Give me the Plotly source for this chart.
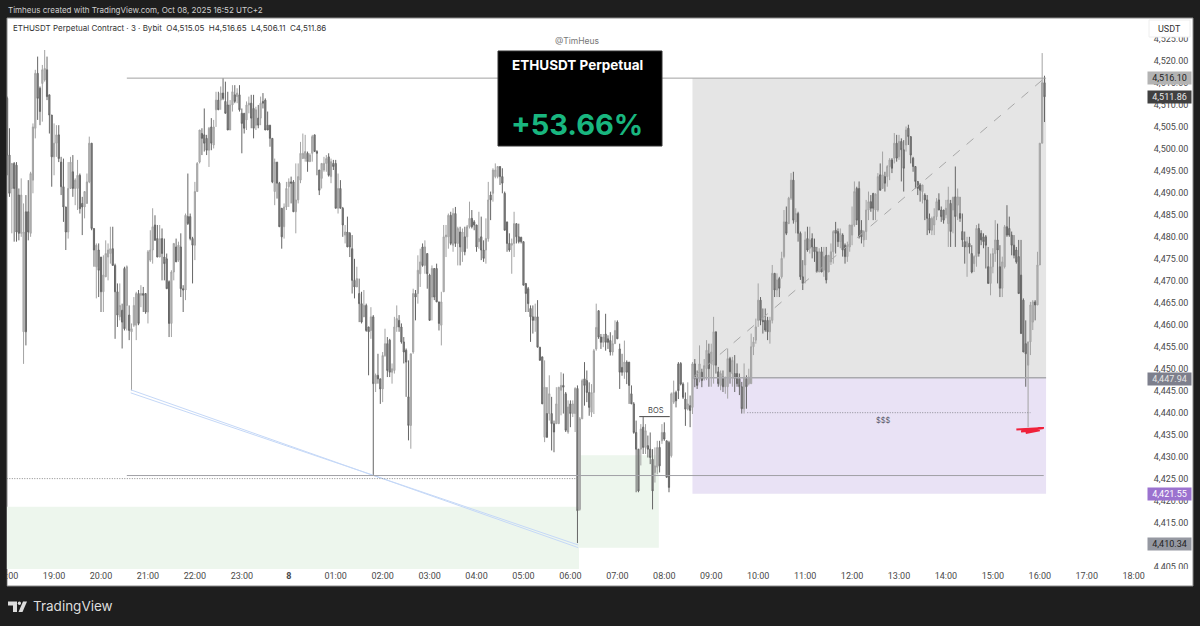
import pandas as pd
import plotly.graph_objects as go

# ETHUSDT 3m candles, one row per hour (20 candles)
opens = [
    4511.5,4498.6,4491,4496.7,4496.3,4489.5,4480.8,4458.4,4485.7,4485.7,4480.8,4492.9,4504.7,4517.2,4513.8,4514.9,4515.7,4518,4512.3,4507.7,
    4498.2,4501.3,4503.2,4497,4491.4,4486.8,4481.1,4491,4494.8,4491,4491,4494,4487.6,4486.8,4487.6,4492.5,4501.3,4481.9,4473.2,4477,
    4475.4,4467.5,4470.9,4475.4,4476.2,4477.3,4473.5,4467.5,4461.8,4463.3,4472.8,4464.4,4462.2,4458.4,4459.9,4459.9,4467.1,4466.7,4467.1,4467.1,
    4462.9,4474.7,4477,4482.7,4479.6,4475.4,4479.6,4475.4,4475,4469.8,4460.3,4472,4477.7,4474.7,4477.7,4468.2,4467.9,4484.6,4484.6,4479.6,
    4478.1,4490.3,4497,4503.5,4503.2,4502.4,4499.7,4505,4500.9,4508.9,4511.1,4511.1,4512.7,4510.8,4510,4504.3,4510,4512.3,4511.9,4512.3,
    4508.1,4508.1,4506.6,4510,4510.4,4509.2,4505.4,4507,4507,4510.8,4511.1,4505.4,4505.4,4502.4,4490.3,4497,4492.2,4486.5,4482.3,4486.8,
    4491.4,4492.5,4492.5,4485.7,4488.4,4492.9,4497.8,4497.8,4499,4497.1,4499,4503.2,4499.4,4495.2,4493.3,4495.2,4496.7,4498.2,4493.7,4496.7,
    4496.7,4486.5,4491,4486.5,4480.4,4481.1,4480.8,4477.3,4470.1,4468.6,4467.1,4464.8,4461.8,4464.4,4459.5,4458.7,4461.8,4446.6,4448.5,4447.7,
    4445.4,4453,4455.7,4456.5,4449.2,4449.6,4459.5,4461,4459.5,4456.1,4454.2,4443.6,4437.1,4453.8,4467.1,4467.1,4471.6,4477.7,4473.5,4476.2,
    4471.3,4466.3,4472.8,4472.8,4465.2,4459.9,4467.5,4480,4480,4484.9,4478.1,4485.3,4478.5,4481.1,4476.6,4480,4480,4482.3,4484.2,4483.4,
    4482.7,4478.9,4480,4477,4477,4479.6,4489.5,4489.9,4493.7,4493.7,4496,4493.7,4489.9,4483.4,4478.5,4478.1,4478.5,4483,4480,4479.9,
    4478.9,4469.4,4468.2,4463.7,4461.8,4461,4461.8,4454.9,4452.7,4434.4,4439.8,4439.8,4439.8,4437.5,4437.5,4437.5,4445.1,4446.2,4444.3,4435.6,
    4442,4439.8,4439.8,4445.5,4418,4438.6,4447.7,4447.3,4444.6,4440.1,4444.6,4454.5,4463.2,4457.2,4456,4457.9,4456.8,4456.4,4453.8,4455.7,
    4460.6,4454.5,4450.3,4449.2,4451.5,4451.5,4444.3,4442,4435.5,4431.7,4431.7,4436.7,4432.1,4432.5,4431.7,4429.4,4426.4,4427.6,4432.1,4433.6,
    4435.5,4433.6,4433.2,4430.2,4442.4,4444.6,4451.1,4451.2,4446.5,4443.1,4440.8,4441.6,4441.2,4451.1,4447.9,4447.7,4449.2,4447.7,4450,4453.4,
    4451.2,4450.8,4458.4,4449.3,4446.2,4448.1,4445.9,4445.9,4452.3,4448.9,4448.9,4448.9,4447.8,4445.9,4440.9,4447.8,4446.6,4446.6,4455,4456.5,
    4461,4465.6,4461,4461,4461,4458.4,4461,4471.7,4467.9,4470.5,4470.9,4475.5,4483.4,4483,4488.8,4492.9,4483.4,4485.3,4480.8,4470.9,
    4473.6,4479.6,4477.4,4479.6,4477.7,4476.6,4472,4476.6,4472.4,4475.8,4472,4474.3,4476.6,4481.5,4481.2,4478.9,4480.4,4478.1,4475.5,4477.7,
    4480.4,4482.7,4491,4491,4481.5,4479.3,4481.2,4486.1,4488,4489.9,4486.1,4486.1,4494.1,4491,4493.7,4493.7,4496,4497.5,4497.9,4501.3,
    4498.2,4501.7,4499.8,4500.9,4504.7,4502.8,4497.9,4496,4492.6,4491.8,4490.3,4489.5,4488.4,4484.2,4481.5,4482.7,4484.6,4488.4,4486.1,4486.1,
    4485,4483,4487.6,4486.1,4489.1,4487.2,4485.3,4481.2,4478.9,4477.7,4478.5,4476.2,4473.9,4475.5,4481.9,4480.8,4480,4480,4473.2,4469.4,
    4473.2,4476.2,4479.3,4473.2,4468.3,4473.2,4482.3,4481.9,4480.4,4478.1,4477,4475.5,4471.3,4465.6,4455.7,4450.8,4456.1,4460.6,4465.2,4464.5,
    4473.6,4501.3,4515.05,
]
highs = [
    4511.9,4504.7,4496.7,4497,4497,4491,4493.3,4487.6,4489.5,4492.9,4494.8,4505.8,4518,4521,4514.2,4519.1,4522.5,4521,4512.3,4507.7,
    4505.8,4505.4,4505.4,4498.2,4497.8,4486.8,4497,4498.2,4498.6,4493.3,4497.5,4494.4,4489.1,4490.3,4494.4,4502.8,4501.3,4481.9,4478.5,4478.5,
    4475.4,4475.8,4479.2,4478.5,4482.3,4482.3,4473.9,4469.4,4469.4,4464.8,4473.2,4473.5,4464.4,4460.3,4466.3,4467.5,4467.9,4469,4468.6,4467.1,
    4477,4481.5,4486.5,4484.9,4482.7,4482.7,4481.9,4479.6,4476.2,4470.1,4472.4,4478.5,4479.6,4478.9,4480.8,4469,4485.3,4494.4,4485.3,4480,
    4492.5,4497,4504.3,4504.7,4509.2,4503.2,4505,4507,4506.6,4513,4513,4514.2,4516.1,4515.3,4513,4511.1,4514.5,4514.5,4513.8,4514.5,
    4509.2,4508.1,4510.8,4511.9,4512.3,4512.3,4509.6,4510,4511.9,4512.7,4511.5,4508.5,4505.4,4502.4,4497.8,4497,4492.5,4486.5,4487.6,4492.5,
    4493.3,4493.7,4492.9,4496.7,4496.7,4501.6,4503.5,4503.2,4499.4,4499,4503.2,4503.2,4499.7,4495.2,4496.7,4498.2,4498.6,4499,4497.8,4497.5,
    4497.5,4494.4,4492.9,4486.8,4482.7,4484.6,4481.1,4480.4,4475,4473.2,4470.5,4467.5,4467.9,4464.8,4459.5,4464,4462.2,4448.9,4453.4,4447.7,
    4453.8,4459.1,4457.2,4456.8,4451.2,4461.8,4464.4,4462.2,4460.3,4457.2,4454.6,4451.9,4453.4,4468.2,4467.9,4475.8,4477.3,4478.5,4479.2,4476.2,
    4471.6,4473.5,4472.8,4473.9,4465.2,4467.5,4482.7,4482.7,4485.3,4485.7,4486.5,4486.8,4482.3,4482.3,4481.9,4482.3,4482.7,4488,4486.1,4483.8,
    4482.7,4485.7,4484.6,4479.2,4484.2,4492.5,4490.3,4495.6,4496.7,4496,4496,4495.6,4490.3,4483.4,4480.8,4479.6,4485.7,4483,4483,4480,
    4478.9,4469.4,4468.6,4464.4,4464.4,4464.8,4465.6,4454.9,4452.7,4451.9,4445.8,4448.5,4443.6,4438.2,4445.8,4445.8,4449.2,4448.9,4444.7,4442.8,
    4442.8,4442.8,4445.8,4446.2,4439,4447.7,4451.5,4449.6,4446.9,4446.5,4454.5,4464.8,4463.2,4457.9,4457.9,4462.5,4457.6,4458.3,4457.6,4461,
    4461,4455.7,4453.4,4456.4,4451.9,4451.5,4446.2,4442.4,4438.2,4431.7,4437.4,4439,4437.4,4434.8,4435.5,4431.7,4432.1,4433.6,4433.6,4437.4,
    4437.8,4433.6,4433.6,4444.6,4447.3,4445,4451.5,4451.5,4446.9,4444.6,4446.9,4443.9,4451.5,4452.2,4449.6,4455.3,4450,4452.2,4456.5,4455.7,
    4455.7,4461.8,4458.4,4450.4,4449.6,4449.6,4448.1,4454.6,4452.7,4452.7,4453.1,4451.2,4448.9,4447,4451.2,4448.5,4450,4458,4457.2,4461.4,
    4469.4,4466.3,4463.7,4463.7,4461.8,4461.8,4473.6,4471.7,4471.7,4470.9,4476.6,4486.1,4486.9,4489.1,4494.5,4494.8,4486.5,4485.7,4481.2,4474.7,
    4481.2,4482.3,4482.3,4480.8,4479.6,4477.7,4477.4,4477.7,4477.7,4477.7,4475.8,4478.5,4481.5,4483.4,4481.9,4481.9,4480.8,4478.5,4478.9,4482.7,
    4486.9,4492.6,4491.4,4492.6,4483.8,4481.5,4488.4,4490.3,4489.5,4489.9,4489.9,4494.5,4496.7,4499.4,4494.8,4496.3,4497.9,4497.9,4503.6,4503.2,
    4503.2,4502.4,4502,4505.1,4505.5,4502.8,4498.2,4496,4492.6,4492.2,4491.8,4489.9,4489.5,4485.3,4484.6,4486.5,4488.8,4489.9,4486.9,4486.1,
    4488.4,4491.4,4488.4,4489.1,4496,4491,4489.1,4485.3,4481.2,4480,4480,4478.1,4475.8,4482.7,4483,4481.5,4480.8,4480.4,4477.7,4476.2,
    4477.4,4483.8,4483,4478.1,4475.5,4482.7,4487.2,4484.6,4481.2,4480.4,4477.7,4479.3,4479.3,4466,4461,4456.1,4465.2,4465.6,4465.6,4476.6,
    4501.3,4521.8,4516.65,
]
lows = [
    4494,4489.1,4480.8,4478.9,4478.9,4479.2,4480,4451.1,4455.3,4479.2,4480,4489.9,4502.4,4506.6,4505.4,4506.2,4515.3,4511.1,4503.5,4491.4,
    4494,4498.2,4497,4489.5,4483.4,4477,4479.6,4491,4489.1,4487.2,4486.1,4485.3,4480.4,4484.2,4487.6,4492.2,4481.5,4473.2,4466,4466.3,
    4462.9,4462.9,4470.9,4470.1,4473.9,4473.5,4456.8,4459.5,4461,4454.6,4458.7,4458.7,4456.5,4445.06,4459.5,4456.5,4459.9,4464,4462.9,4462.5,
    4460.3,4474.3,4473.9,4479.2,4475.4,4475.4,4470.1,4470.1,4468.2,4457.2,4457.2,4470.1,4474.3,4474.3,4466.3,4462.9,4465.6,4482.7,4479.2,4469.4,
    4474.7,4490.3,4496.7,4498.6,4499.4,4498.6,4495.9,4499.7,4500.1,4505,4508.9,4508.9,4511.1,4508.1,4504.3,4504.3,4508.5,4510.4,4510.4,4508.5,
    4499,4503.5,4504.3,4508.1,4504.7,4502.4,4504.3,4504.7,4505.4,4509.2,4504.3,4504.3,4500.5,4492.2,4487.2,4488.7,4482.3,4477.3,4479.6,4486.1,
    4486.8,4487.6,4485.7,4480.8,4487.6,4492.2,4497.8,4497.1,4494.8,4497.1,4497.1,4499.4,4494,4489.5,4491,4494.8,4494.8,4493.7,4492.2,4495.2,
    4486.5,4485.3,4486.5,4480,4478.5,4477.7,4475.4,4467.1,4466,4468.6,4460.6,4460.3,4462.2,4458.4,4448.5,4456.8,4425.7,4444.7,4446.6,4442,
    4442.4,4452.7,4448.1,4448.1,4446.6,4448.9,4458.4,4458.4,4455.7,4451.2,4443.6,4433.7,4431.8,4453.4,4461,4464.8,4468.6,4473.2,4471.6,4468.2,
    4461,4461,4465.6,4465.2,4458.7,4455.3,4467.5,4475.4,4477.3,4478.1,4476.6,4477.7,4473.5,4473.5,4474.3,4475.8,4477.3,4481.9,4481.9,4481.5,
    4476.6,4477.3,4474.7,4474.3,4473.9,4478.9,4483.8,4488,4493.3,4493.3,4491.8,4489.9,4481.5,4476.6,4476.6,4471.6,4475.4,4478.5,4478.5,4478.5,
    4469,4462.9,4462.9,4456.1,4458,4458.4,4454.9,4451.9,4442,4433.3,4435.6,4438.2,4431.4,4431,4437.5,4437.5,4439.4,4439.8,4435.6,4435.2,
    4436.7,4439,4435.6,4410.34,4417.7,4438.6,4441.6,4442.4,4439.3,4439,4439.7,4454.1,4456.8,4454.5,4454.9,4454.1,4454.5,4453,4453,4455.7,
    4456.8,4445.4,4448.4,4447.7,4446.5,4442,4442,4435.2,4421.9,4421.9,4428,4430.6,4430.6,4429.8,4428.3,4418,4424.1,4426,4426.4,4432.9,
    4433.6,4425.3,4421.9,4429.8,4442,4441.2,4443.1,4446.2,4443.1,4437,4440.5,4436.7,4439.7,4445.8,4445.4,4446.9,4445.8,4447.3,4447.4,4445.9,
    4445.9,4446.6,4448.9,4445.9,4445.1,4444.7,4444.3,4443.2,4446.6,4445.9,4444.7,4445.9,4444,4439.8,4439.8,4440.9,4446.2,4446.6,4453.1,4455.7,
    4459.5,4459.9,4458,4458.4,4456.5,4455.7,4460.3,4466.3,4466.3,4466.3,4470.5,4475.1,4480.4,4483,4488.4,4483,4480.8,4478.9,4470.2,4467.9,
    4469.4,4476.6,4476.2,4475.1,4474.3,4472,4472,4472,4470.9,4469.4,4472,4473.6,4473.9,4476.2,4477.7,4477.4,4475.5,4473.9,4474.3,4476.6,
    4478.1,4482.3,4482.7,4479.6,4478.5,4477.7,4479.3,4483.8,4485.7,4483.8,4483.8,4485.7,4491,4492.2,4490.3,4491.4,4492.9,4494.5,4496.7,4497.1,
    4497.5,4492.6,4490.3,4499.4,4500.9,4496.7,4494.8,4491,4489.5,4488,4487.6,4483.8,4480.4,4480.8,4480.4,4480.4,4483.8,4486.1,4483.4,4483,
    4484.2,4477.7,4477.7,4480.8,4477.7,4483.8,4483.4,4477.7,4473.9,4470.9,4476.2,4471.7,4472,4473.2,4475.5,4478.1,4477.4,4472.8,4469.4,4466.7,
    4471.7,4474.3,4469.4,4466.3,4466.3,4472.8,4480,4480,4475.8,4475.1,4473.9,4467.1,4458,4453.8,4445.9,4436.7,4453.1,4458.8,4461,4464.5,
    4473.6,4501.3,4506.11,
]
closes = [
    4498.6,4489.9,4496.7,4491,4481.1,4480.8,4489.5,4481.1,4458.4,4481.1,4494.4,4505,4517.2,4511.5,4508.5,4518,4518.3,4511.9,4507.7,4498.2,
    4501.3,4503.2,4497.8,4491.4,4486.8,4481.1,4491,4497,4491,4492.9,4494,4486.4,4486.8,4490.3,4492.5,4501.3,4481.9,4477,4478.1,4472.4,
    4467.5,4471.3,4476.2,4477,4477.3,4473.5,4467.5,4462.2,4464.4,4460.6,4459.1,4473.2,4458.7,4459.1,4464.4,4467.1,4460.3,4467.1,4466.7,4462.9,
    4476.6,4477,4482.3,4479.2,4475.4,4479.6,4476.2,4473.9,4468.2,4460.3,4472,4478.5,4474.3,4478.1,4468.2,4467.9,4484.9,4483,4479.6,4478.1,
    4490.3,4496.7,4504.3,4502.4,4501.3,4499.7,4504.7,4501.3,4505,4511.1,4508.9,4512.7,4511.5,4508.1,4504.3,4510,4513,4510.8,4512.7,4508.9,
    4505.8,4504.7,4510,4510.4,4507,4504.7,4508.9,4505.4,4510.4,4510.4,4504.3,4504.3,4502.4,4492.5,4497,4492.2,4482.3,4480,4486.8,4491,
    4492.5,4492.2,4485.7,4488.4,4493.7,4499,4499,4499.4,4497.1,4498.6,4502.8,4499.4,4499,4490.6,4496.7,4496.7,4497.8,4494,4497.1,4496,
    4486.5,4491,4486.5,4482.7,4481.1,4477.7,4477.7,4470.1,4468.6,4470.5,4464.8,4460.6,4464.4,4458.7,4458.4,4461.8,4446.6,4448.5,4447.7,4445.4,
    4453,4455.7,4449.6,4449.2,4450,4459.5,4461.4,4459.5,4456.1,4453.8,4451.5,4437.1,4453.4,4467.1,4466.3,4472.4,4474.3,4473.5,4477.7,4471.6,
    4461,4472.8,4466.3,4465.2,4460.3,4465.2,4480,4480.4,4484.9,4478.5,4485.3,4478.5,4481.9,4477.7,4481.1,4476.6,4482.3,4484.2,4482.3,4482.7,
    4477.7,4479.6,4477,4475.1,4479.6,4488.4,4488.4,4495.2,4495.2,4496,4493.7,4492.2,4481.5,4478.5,4477,4478.5,4483,4480,4478.9,4478.9,
    4469,4467.1,4464.8,4461.8,4461,4461.8,4454.9,4451.9,4442,4445.8,4434.4,4444.3,4437.5,4435.6,4442,4445.8,4446.2,4445.8,4436,4441.3,
    4439.8,4442,4445.5,4417.7,4438.6,4447.3,4446.2,4444.6,4441.2,4444.6,4454.1,4459.4,4457.2,4456,4457.2,4456,4456,4453.8,4455.7,4458.7,
    4456.8,4449.2,4449.2,4451.5,4449.2,4446.2,4442,4435.5,4431.7,4422.2,4436.3,4432.1,4435.9,4431.7,4429.8,4422.2,4427.9,4432.1,4427.9,4435.5,
    4434,4425.3,4423,4444.3,4444.6,4442.7,4445,4446.5,4443.5,4440.8,4442,4440.5,4451.1,4447.7,4446.2,4451.1,4447.3,4450.7,4454.2,4450,
    4453.8,4458.4,4450.8,4446.6,4448.9,4445.9,4448.1,4452.3,4449.3,4451.9,4447.8,4446.6,4445.9,4440.9,4448.1,4445.9,4448.1,4455,4456.1,4459.5,
    4465.6,4461,4460.7,4458.8,4458.4,4461,4471.7,4467.9,4470.2,4468.3,4475.1,4483.4,4480.8,4488.8,4492.9,4483.8,4485.3,4480.8,4470.9,4469.4,
    4479.3,4477,4479.3,4477.7,4476.6,4472,4476.6,4472,4475.5,4470.2,4475.8,4476.6,4481.2,4480.8,4478.9,4480.8,4477,4475.5,4478.1,4482.7,
    4482.7,4490.3,4483.8,4480,4480,4481.2,4486.1,4488,4486.5,4486.5,4489.7,4493.7,4490.6,4494.1,4492.2,4496,4497.5,4495.6,4501.3,4497.9,
    4501.7,4499.8,4495.6,4504.3,4502.8,4498.6,4496,4492.6,4491,4490.6,4491.8,4488.4,4484.2,4481.5,4484.2,4484.6,4488,4486.1,4484.6,4483.8,
    4486.5,4488.4,4481.2,4489,4484.6,4489.1,4484.2,4479.3,4477.7,4478.9,4477.7,4472,4475.5,4481.9,4476.2,4479.3,4478.9,4478.1,4469.4,4473.2,
    4476.2,4479.3,4477,4468.3,4474.3,4482.3,4480.4,4480.4,4478.1,4475.8,4474.3,4467.1,4458,4453.8,4453.4,4456.1,4464.5,4465.2,4464.5,4473.6,
    4501.3,4515.05,4511.86,
]
assert len(opens) == len(highs) == len(lows) == len(closes) == 443

candle_times = pd.date_range("2025-10-07 18:00", periods=443, freq="3min")

x_tick_times = pd.date_range("2025-10-07 18:00", "2025-10-08 18:00", freq="1h")
x_tick_labels = ["18:00", "19:00", "20:00", "21:00", "22:00", "23:00", "<b>8</b>", "01:00", "02:00",
                 "03:00", "04:00", "05:00", "06:00", "07:00", "08:00", "09:00", "10:00", "11:00",
                 "12:00", "13:00", "14:00", "15:00", "16:00", "17:00", "18:00"]
y_ticks = [4405, 4410, 4415, 4420, 4425, 4430, 4435, 4440, 4445, 4450, 4455, 4460, 4465, 4470, 4475,
           4480, 4485, 4490, 4495, 4500, 4505, 4510, 4515, 4520, 4525]

# drawings on the chart
top_level = 4516.10
entry_level = 4447.94
stop_level = 4421.55
swept_level = 4440
bos_level = 4439.1
low_level = 4425.7
dotted_level = 4425.0
last_price = 4511.86
lowest_price = 4410.34

position_start = "2025-10-08 08:36"
position_end = "2025-10-08 16:08"
left_zone = ["2025-10-07 17:50", "2025-10-08 06:11", 4418.6, 4404.3]
right_zone = ["2025-10-08 06:11", "2025-10-08 07:53", 4430.3, 4409.3]
blue_a_x = ["2025-10-07 20:38", "2025-10-08 06:10"]
blue_a_y = [4445.2, 4409.3]
blue_b_x = ["2025-10-07 20:38", "2025-10-08 06:10"]
blue_b_y = [4444.5, 4409.9]
red_x = ["2025-10-08 15:30", "2025-10-08 16:05", "2025-10-08 15:36", "2025-10-08 16:00", "2025-10-08 15:42"]
red_y = [4436.2, 4436.5, 4435.7, 4436.0, 4435.4]

FONT = "Inter"
TICK_FONT = "Roboto"
W, H = 1200, 626
L, R, T, B = 7, 1147, 18, 569


def px(x):
    return (x - L) / (R - L)


def py(y):
    return 1 - (y - T) / (B - T)


def rect(x0, y0, x1, y1, fill, layer="above", line=None):
    return dict(type="rect", xref="paper", yref="paper", x0=px(x0), x1=px(x1), y0=py(y0), y1=py(y1),
                fillcolor=fill, layer=layer, line=dict(width=1 if line else 0, color=line or fill))


def zone(x0, x1, y0, y1, fill):
    return dict(type="rect", xref="x", yref="y", x0=x0, x1=x1, y0=y0, y1=y1, fillcolor=fill,
                layer="below", line=dict(width=0))


def hline(x0, x1, y, color, width=1, dash="solid"):
    return dict(type="line", xref="x", yref="y", x0=x0, x1=x1, y0=y, y1=y, layer="above",
                line=dict(color=color, width=width, dash=dash))


def label(x, y, text, size=10, color="#4a4a4a", anchor="center", family=FONT, **kw):
    return dict(xref="paper", yref="paper", x=px(x), y=py(y), text=text, showarrow=False, xanchor=anchor,
                yanchor="middle", font=dict(family=family, size=size, color=color), **kw)


def tag(y, text, bg, color):
    return label(1169, y, text, size=9, color=color, family=TICK_FONT, bgcolor=bg, width=43, height=12, borderpad=0)


fig = go.Figure()
fig.add_trace(go.Candlestick(
    x=candle_times, open=opens, high=highs, low=lows, close=closes,
    increasing=dict(line=dict(color="#a3a3a3", width=1), fillcolor="#bdbdbd"),
    decreasing=dict(line=dict(color="#666666", width=1), fillcolor="#8f8f8f"),
    whiskerwidth=0, showlegend=False, hoverinfo="skip",
))
fig.add_trace(go.Scatter(x=blue_a_x, y=blue_a_y, mode="lines", line=dict(color="#c5d8f7", width=1),
                         showlegend=False, hoverinfo="skip"))
fig.add_trace(go.Scatter(x=blue_b_x, y=blue_b_y, mode="lines", line=dict(color="#c5d8f7", width=1),
                         showlegend=False, hoverinfo="skip"))
fig.add_trace(go.Scatter(x=red_x, y=red_y, mode="lines", line=dict(color="#f0213a", width=2),
                         showlegend=False, hoverinfo="skip"))

shapes = [
    rect(7, 18, 1193, 586, "#ffffff", layer="below", line="#8a8a8a"),
    zone(left_zone[0], left_zone[1], left_zone[2], left_zone[3], "#edf6ed"),
    zone(right_zone[0], right_zone[1], right_zone[2], right_zone[3], "#edf6ed"),
    zone(position_start, position_end, entry_level, top_level, "#e5e5e5"),
    zone(position_start, position_end, stop_level, entry_level, "#e9e2f5"),
    hline("2025-10-07 20:33", position_end, top_level, "#a2a2a2"),
    hline(position_start, position_end, entry_level, "#a9a9ad", width=1.5),
    hline("2025-10-07 20:33", "2025-10-08 16:05", low_level, "#a0a0a6"),
    hline("2025-10-07 17:50", "2025-10-08 06:09", dotted_level, "#8a8a8a", dash="1px,1.5px"),
    hline("2025-10-08 09:46", "2025-10-08 15:48", swept_level, "#8d8d95", dash="1px,1.5px"),
    hline("2025-10-08 07:28", "2025-10-08 08:07", bos_level, "#444444"),
    dict(type="line", xref="x", yref="y", x0=position_start, x1="2025-10-08 16:06", y0=entry_level, y1=top_level,
         layer="above", line=dict(color="#a8a8a8", width=1, dash="dash")),
    # clip the left tick label and the lowest price label like the chart window does
    rect(0, 569, 6.5, 586, "#1e1e1e"),
    rect(1148, 569, 1192, 574, "#ffffff"),
    rect(1149, 20, 1190, 37, "#ffffff", line="#eeeeee"),
    rect(498, 51, 662, 146, "#000000", line="#333333"),
    # TradingView logo
    dict(type="path", xref="paper", yref="paper", layer="above", fillcolor="#dddddd", line=dict(width=0),
         path="M %f %f L %f %f L %f %f L %f %f L %f %f L %f %f Z" % (
             px(8), py(601.5), px(17), py(601.5), px(17), py(612), px(13), py(612), px(13), py(605.5), px(8), py(605.5))),
    dict(type="circle", xref="paper", yref="paper", layer="above", fillcolor="#dddddd", line=dict(width=0),
         x0=px(17.8), x1=px(21), y0=py(601.5), y1=py(605)),
    dict(type="path", xref="paper", yref="paper", layer="above", fillcolor="#dddddd", line=dict(width=0),
         path="M %f %f L %f %f L %f %f L %f %f Z" % (
             px(23), py(601.5), px(27), py(601.5), px(22.5), py(612), px(18.5), py(612))),
]

annotations = [
    label(6, 10, "Timheus created with TradingView.com, Oct 08, 2025 16:52 UTC+2", size=8, color="#cfcfcf", anchor="left"),
    label(11, 28, "ETHUSDT Perpetual Contract · 3 · Bybit&nbsp;&nbsp;O4,515.05&nbsp;&nbsp;H4,516.65&nbsp;&nbsp;L4,506.11&nbsp;&nbsp;C4,511.86",
          size=8, color="#333333", anchor="left"),
    label(577, 41, "@TimHeus", size=8.5, color="#777777"),
    label(577, 65, "<b>ETHUSDT Perpetual</b>", size=13.5, color="#ffffff"),
    label(577, 124, "<b>+53.66%</b>", size=29, color="#19b67f"),
    label(656, 410, "BOS", size=7.5, color="#444444"),
    label(884, 420, "$$$", size=7.5, color="#555566"),
    label(1169, 28.5, "USDT", size=9, color="#333333", family=TICK_FONT),
    tag(78.5, f"{top_level:,.2f}", "#b3b3b3", "#222222"),
    tag(97, f"{last_price:,.2f}", "#404040", "#e8e8e8"),
    tag(378.7, f"{entry_level:,.2f}", "#7d7f8c", "#e6e6e6"),
    tag(494, f"{stop_level:,.2f}", "#9b72cf", "#ffffff"),
    tag(544, f"{lowest_price:,.2f}", "#9598a1", "#222222"),
    label(31, 606, "TradingView", size=13.5, color="#dddddd", anchor="left"),
]

fig.update_layout(
    width=W, height=H,
    margin=dict(l=L, r=W - R, t=T, b=H - B, pad=0, autoexpand=False),
    paper_bgcolor="#1e1e1e", plot_bgcolor="#ffffff",
    font=dict(family=TICK_FONT, size=9, color="#4a4a4a"),
    showlegend=False, hovermode=False,
    shapes=shapes, annotations=annotations,
    xaxis=dict(
        type="date", range=["2025-10-07 17:59:50", "2025-10-08 18:17"], automargin=False,
        tickmode="array", tickvals=list(x_tick_times), ticktext=x_tick_labels, ticklabeloverflow="allow",
        showgrid=False, zeroline=False, showline=False, ticks="", rangeslider=dict(visible=False),
        tickfont=dict(family=TICK_FONT, size=9, color="#4a4a4a"), fixedrange=True,
    ),
    yaxis=dict(
        side="right", range=[4404.44, 4529.78], automargin=False,
        tickmode="array", tickvals=y_ticks, tickformat=",.2f",
        showgrid=False, zeroline=False, showline=False,
        ticks="outside", ticklen=4, tickcolor="rgba(0,0,0,0)",
        tickfont=dict(family=TICK_FONT, size=9, color="#4a4a4a"), fixedrange=True,
    ),
)

fig.write_html("out.html", config={"displayModeBar": False}, post_script="document.body.style.margin='0';")
